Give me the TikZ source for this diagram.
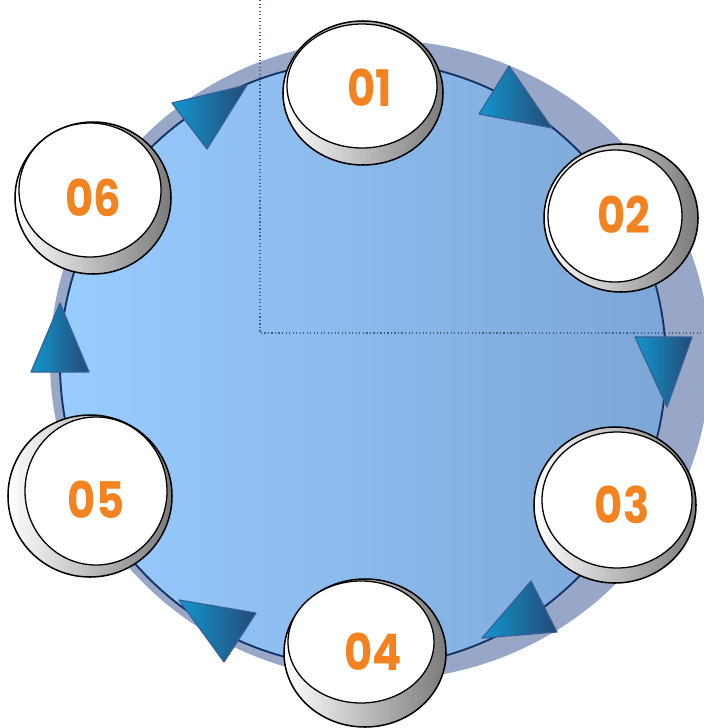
\documentclass[tikz,border=0pt]{standalone}
\usepackage{fontspec}
\setmainfont{Poppins}[FakeStretch=0.86]
\usetikzlibrary{shapes.geometric}
\definecolor{ringshadow}{RGB}{152,167,200}
\definecolor{ringleft}{RGB}{153,204,255}
\definecolor{ringright}{RGB}{124,166,214}
\definecolor{ringline}{RGB}{18,52,100}
\definecolor{numorange}{RGB}{243,131,33}
\definecolor{arrowleft}{RGB}{18,150,206}
\definecolor{arrowright}{RGB}{36,74,118}
\definecolor{arrowline}{RGB}{52,96,150}
\definecolor{guide}{RGB}{70,92,132}
\tikzset{
  disc/.style={draw=black,line width=1.3pt,left color=white,right color=black!52},
  face/.style={draw=black,line width=1.1pt,fill=white},
  num/.style={text=numorange,font=\fontsize{43}{43}\selectfont\bfseries},
  tri/.style={draw=arrowline,line width=1pt,line join=round,left color=arrowleft,right color=arrowright}
}
\begin{document}
\begin{tikzpicture}[x=0.03cm,y=-0.03cm]
\useasboundingbox(0,0)rectangle(704,728);
% ring
\fill[ringshadow](380,360)ellipse(330 and 320);
\draw[ringline,line width=1.6pt,left color=ringleft,right color=ringright](363,364)circle(303);
\draw[guide,dotted,line width=1pt](260,0)--(260,333)--(704,333);
% arrows
\draw[tri](509,66)--(479,114)--(552,128)--cycle;
\draw[tri](635,337)--(692,337)--(667,407)--cycle;
\draw[tri](531,581)--(482,638)--(557,632)--cycle;
\draw[tri](179,600)--(256,613)--(224,662)--cycle;
\draw[tri](60,303)--(31,372)--(89,372)--cycle;
\draw[tri](172,103)--(247,85)--(207,149)--cycle;
% discs
\draw[disc](363,93)ellipse(80 and 72);
\draw[face](362,86)ellipse(75 and 62);
\node[num](n01)at(370,88){01};
\draw[disc](621,218)ellipse(77 and 74);
\draw[face](615,216)ellipse(67 and 66);
\node[num](n02)at(624,215){02};
\draw[disc](615,505)ellipse(81 and 78);
\draw[face](617,500)ellipse(75 and 68);
\node[num](n03)at(622,505){03};
\draw[disc](365,653)ellipse(81 and 74);
\draw[face](361,642)ellipse(73 and 61);
\node[num](n04)at(373,652){04};
\draw[disc](90,496)ellipse(82 and 81);
\draw[face](96,491)ellipse(71 and 74);
\node[num](n05)at(96,500){05};
\draw[disc](93,198)ellipse(78 and 76);
\draw[face](90,190)ellipse(71 and 67);
\node[num](n06)at(93,198){06};
\end{tikzpicture}
\end{document}
